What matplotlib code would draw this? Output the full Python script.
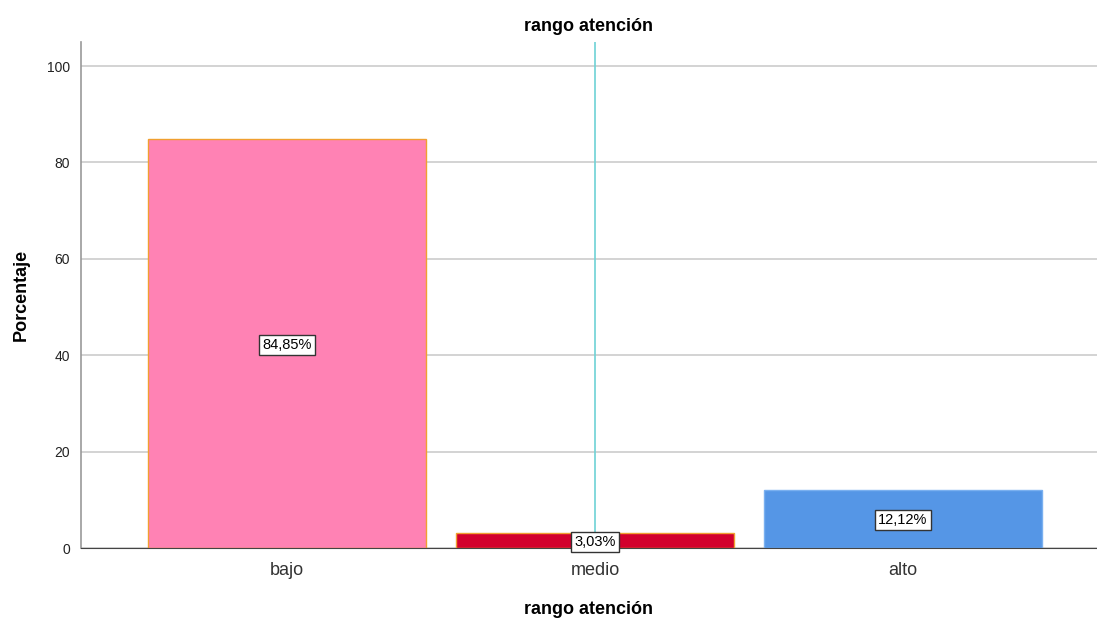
import matplotlib.pyplot as plt

categories = ["bajo", "medio", "alto"]
percent = [84.85, 3.03, 12.12]
labels = ["84,85%", "3,03%", "12,12%"]
face_colors = ["#FF82B4", "#D2002D", "#5596E6"]
edge_colors = ["#F0A030", "#F0A030", "#7AB0F0"]

plt.rcParams['font.family'] = ['Liberation Sans', 'DejaVu Sans']

fig = plt.figure(figsize=(10.97, 6.19), dpi=100)
ax = fig.add_axes([81 / 1097, 1 - 548 / 619, (1097 - 81) / 1097, (548 - 42) / 619])

x = list(range(len(categories)))
ax.bar(x, percent, width=0.9, color=face_colors, edgecolor=edge_colors, linewidth=1, zorder=2)

# reference line through the middle category
ax.axvline(1, color="#6ED2D6", linewidth=1.2, zorder=3)

for xi, v, lab in zip(x, percent, labels):
    ax.text(xi, v / 2, lab, ha="center", va="center_baseline", fontsize=10.5, zorder=4,
            bbox=dict(boxstyle="square,pad=0.2", facecolor="white", edgecolor="#333333", linewidth=1))

ax.set_xlim(-0.669, 2.63)
ax.set_ylim(0, 105)
ax.set_yticks([0, 20, 40, 60, 80, 100])
ax.set_xticks(x)
ax.set_xticklabels(categories, fontsize=13, color="#333333")
ax.tick_params(axis="y", labelsize=10, length=0, pad=8, colors="#222222")
ax.tick_params(axis="x", length=0, pad=10)
ax.grid(axis="y", color="#CCCCCC", linewidth=1.2, zorder=0)
ax.set_axisbelow(True)

for s in ["top", "right"]:
    ax.spines[s].set_visible(False)
ax.spines["left"].set_color("#999999")
ax.spines["left"].set_linewidth(1.2)
ax.spines["bottom"].set_color("#444444")

ax.set_title("rango atención", fontsize=13, fontweight="bold", pad=8)
ax.set_xlabel("rango atención", fontsize=13, fontweight="bold", labelpad=16)
ax.set_ylabel("Porcentaje", fontsize=13, fontweight="bold", labelpad=12)

fig.savefig("out.png", dpi=100)
